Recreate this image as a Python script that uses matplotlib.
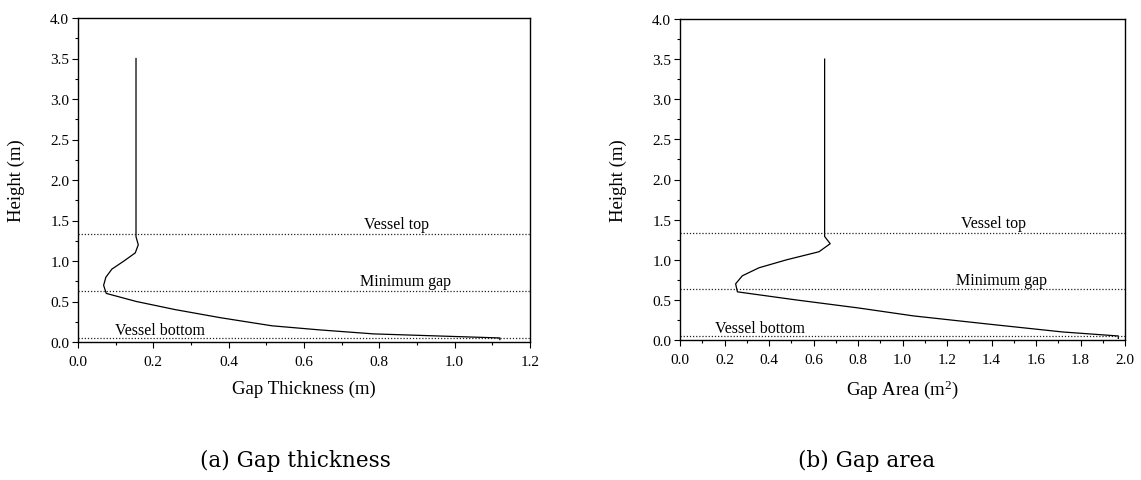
import numpy as np
import matplotlib.pyplot as plt
from matplotlib.ticker import MultipleLocator

plt.rcParams['font.family'] = ['Liberation Serif', 'DejaVu Serif']
plt.rcParams['mathtext.fontset'] = 'custom'
plt.rcParams['mathtext.rm'] = 'Liberation Serif'
plt.rcParams['mathtext.it'] = 'Liberation Serif:italic'

# gap thickness profile (height in m, thickness in m)
height_a = [3.5, 1.30, 1.20, 1.10, 1.00, 0.90, 0.80, 0.70, 0.60, 0.50, 0.40, 0.30, 0.20, 0.15, 0.10, 0.05, 0.03]
thick_a = [0.154, 0.154, 0.160, 0.152, 0.122, 0.090, 0.074, 0.068, 0.075, 0.155, 0.258, 0.378, 0.515, 0.64, 0.785, 1.12, 1.12]

# gap area profile (height in m, area in m2)
height_b = [3.5, 1.29, 1.20, 1.10, 1.00, 0.90, 0.80, 0.70, 0.60, 0.50, 0.40, 0.30, 0.20, 0.10, 0.05, 0.02]
area_b = [0.650, 0.650, 0.675, 0.625, 0.48, 0.355, 0.280, 0.250, 0.258, 0.52, 0.80, 1.05, 1.38, 1.72, 1.97, 1.97]

# reference levels
levels = [1.33, 0.63, 0.05]
level_names = ['Vessel top', 'Minimum gap', 'Vessel bottom']
label_x_a = [0.846, 0.869, 0.218]
label_x_b = [1.407, 1.446, 0.36]
label_y = [1.46, 0.75, 0.145]

W, H = 1141, 481
fig = plt.figure(figsize=(W / 100, H / 100), dpi=100)

def px_axes(x0, y0, x1, y1):
    return fig.add_axes([x0 / W, 1 - y1 / H, (x1 - x0) / W, (y1 - y0) / H])

ax1 = px_axes(78, 19, 530, 343)
ax2 = px_axes(680, 20, 1125, 341)

def style(ax, xmax, xlabel, lx):
    ax.set_xlim(0, xmax)
    ax.set_ylim(0, 4.0)
    ax.xaxis.set_major_locator(MultipleLocator(0.2))
    ax.xaxis.set_minor_locator(MultipleLocator(0.1))
    ax.yaxis.set_major_locator(MultipleLocator(0.5))
    ax.yaxis.set_minor_locator(MultipleLocator(0.25))
    ax.xaxis.set_major_formatter(plt.FuncFormatter(lambda v, p: '%.1f' % v))
    ax.yaxis.set_major_formatter(plt.FuncFormatter(lambda v, p: '%.1f' % v))
    ax.tick_params(which='both', direction='out', top=False, right=False, width=0.8)
    ax.tick_params(which='major', length=4.3, labelsize=11)
    ax.tick_params(which='minor', length=2.2)
    ax.tick_params(axis='x', which='major', pad=5)
    ax.tick_params(axis='y', which='major', pad=2)
    for s in ax.spines.values():
        s.set_linewidth(1.0)
    ax.set_xlabel(xlabel, fontsize=13.5)
    ax.set_ylabel('Height (m)', fontsize=13.5)
    ax.xaxis.set_label_coords(0.5, lx)
    ax.yaxis.set_label_coords(-0.118, 0.5)

style(ax1, 1.2, 'Gap Thickness (m)', -0.115)
style(ax2, 2.0, 'Gap Area (m$^2$)', -0.118)

ax1.plot(thick_a, height_a, color='black', lw=0.9)
ax2.plot(area_b, height_b, color='black', lw=0.9)

for ax, lxs in ((ax1, label_x_a), (ax2, label_x_b)):
    for lev, name, lx, ly in zip(levels, level_names, lxs, label_y):
        ax.axhline(lev, color='#222222', lw=0.9, dashes=(1, 1.5))
        ax.text(lx, ly, name, ha='center', va='center', fontsize=11.5)

fig.text(295 / W, 1 - 461 / H, '(a) Gap thickness', ha='center', va='center',
         fontsize=15.5, family='DejaVu Serif')
fig.text(867 / W, 1 - 461 / H, '(b) Gap area', ha='center', va='center',
         fontsize=15.5, family='DejaVu Serif')

fig.savefig('out.png', dpi=100)
